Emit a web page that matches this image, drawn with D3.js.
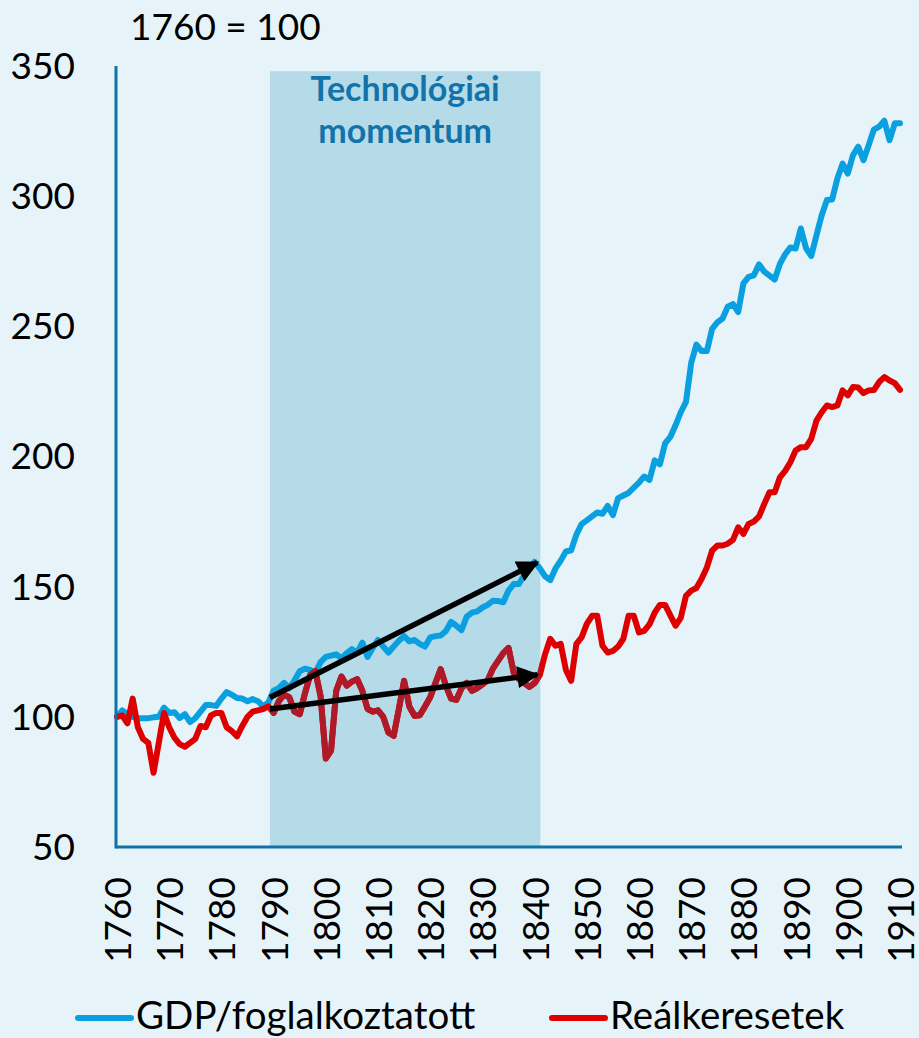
<!DOCTYPE html>
<html>
<head>
<meta charset="utf-8">
<script src="https://cdn.jsdelivr.net/npm/d3@7"></script>
<style>
  body { margin: 0; background: #e6f4fa; }
  svg text { font-family: Lato, "Liberation Sans", sans-serif; }
</style>
</head>
<body>
<script>
// index, 1760 = 100
var years = d3.range(1760, 1911);

var gdp = [
  100, 102.5, 101, 100, 99.5, 99.5, 99.5, 99.8, 100, 103.5,
  101.5, 101.8, 99.5, 101, 98, 99.5, 102, 104.5, 104.5, 104.2,
  107, 109.5, 108.5, 107.2, 107, 106, 106.8, 106, 104, 105.5,
  110, 111, 113, 111, 114, 117.5, 118.5, 118, 117, 121,
  123, 123.5, 124, 122.5, 124.5, 126, 124.7, 128.5, 123, 126.5,
  129.5, 127, 124.7, 127, 129.2, 131, 129, 129.5, 128, 127,
  130.5, 131, 131.2, 133, 136.5, 135, 133.3, 138.5, 140, 140.5,
  142, 143, 144.6, 144.5, 144, 148.5, 151, 151, 154.5, 157,
  159.5, 157, 154, 152.5, 157, 160, 163.5, 164, 170, 174,
  175.5, 177, 178.5, 178, 181, 177.5, 184, 185, 186, 188,
  190, 192.3, 191, 198.5, 197, 205, 207.5, 212, 217, 221,
  236, 243, 240.5, 240.5, 249, 251.5, 253, 257.5, 258.5, 255.5,
  266.5, 269, 269.6, 273.8, 271, 269.5, 268, 274, 277.7, 280.3,
  279.9, 287.6, 280, 277, 285, 292.7, 298.5, 298.7, 306.8, 312.5,
  308.7, 315.8, 319, 313.8, 319.6, 325.6, 326.7, 329, 321.5, 328, 328
];

var wages = [
  100, 100.5, 97.5, 107, 96, 91.5, 90, 78.5, 90, 101.5,
  96, 92, 89.5, 88.5, 90, 91.5, 96.5, 96, 100.5, 101.5,
  101.5, 96, 94.5, 92.5, 96.5, 100, 102, 102.5, 103, 104,
  101.5, 106, 108.5, 107.5, 102, 101, 109, 116, 117.5, 108,
  84, 87, 110, 115.5, 112, 113.5, 114.5, 110, 103, 102,
  102.5, 100, 94, 92.7, 103, 113.8, 104, 100.4, 100.6, 104,
  107.5, 113, 118.3, 112, 107, 106.5, 111, 113, 110, 111,
  112.5, 114, 118.5, 121.5, 124.5, 126.5, 117, 114.5, 113, 111.5,
  113, 116, 124, 130, 127.3, 128, 118, 113.8, 128, 130.5,
  135.7, 138.8, 138.8, 127.3, 124.7, 125.3, 127, 130, 138.8, 138.8,
  132.4, 133, 135.5, 140, 143, 143, 139, 135, 138, 146.5,
  148.5, 149.5, 153, 157.4, 163.8, 165.8, 165.8, 166.5, 168, 172.8,
  170.3, 174.1, 175, 177, 181.8, 186.3, 186.3, 192, 194.5, 197.8,
  202.3, 203.6, 203.6, 206.8, 213.8, 217, 219.6, 219, 219.6, 225.4,
  223.5, 226.7, 226.5, 224.3, 225.4, 225.5, 228.6, 230.5, 229.2, 228.2, 225.6
];

var xTicks = d3.range(1760, 1911, 10);
var yTicks = [50, 100, 150, 200, 250, 300, 350];

// shaded period and the two trend arrows
var shadeYears = [1789.3, 1841.1];
var shadeTop = 348;
var arrowsFrom = [[1789.3, 107.4], [1789.3, 103]];
var arrowsTo = [[1840.5, 159.3], [1840.5, 116.2]];

var width = 919, height = 1038;

var x = d3.scaleLinear().domain([1760, 1910]).range([117, 900]);
var y = d3.scaleLinear().domain([50, 350]).range([847, 66]);

var svg = d3.select("body").append("svg")
    .attr("width", width)
    .attr("height", height);

svg.append("rect")
    .attr("width", width).attr("height", height)
    .attr("fill", "#e6f4fa");

var defs = svg.append("defs");
defs.append("clipPath").attr("id", "shadeClip")
  .append("rect")
    .attr("x", x(shadeYears[0])).attr("y", 0)
    .attr("width", x(shadeYears[1]) - x(shadeYears[0]))
    .attr("height", height);

defs.append("marker")
    .attr("id", "head")
    .attr("viewBox", "0 0 10 10")
    .attr("refX", 9).attr("refY", 5)
    .attr("markerWidth", 5).attr("markerHeight", 4)
    .attr("markerUnits", "strokeWidth")
    .attr("orient", "auto")
  .append("path")
    .attr("d", "M0,0 L10,5 L0,10 z")
    .attr("fill", "#000");

svg.append("rect")
    .attr("x", x(shadeYears[0]))
    .attr("y", y(shadeTop))
    .attr("width", x(shadeYears[1]) - x(shadeYears[0]))
    .attr("height", y(50) - y(shadeTop))
    .attr("fill", "#b5dbe8");

var title = ["Technológiai", "momentum"];
svg.selectAll(".title")
    .data(title)
    .enter().append("text")
    .attr("class", "title")
    .attr("x", (x(shadeYears[0]) + x(shadeYears[1])) / 2)
    .attr("y", function(d, i) { return 101 + i * 42; })
    .attr("text-anchor", "middle")
    .attr("font-weight", "bold")
    .attr("font-size", 34)
    .attr("fill", "#1272aa")
    .text(function(d) { return d; });

var line = d3.line()
    .x(function(d, i) { return x(years[i]); })
    .y(function(d) { return y(d); });

svg.append("path")
    .datum(gdp)
    .attr("d", line)
    .attr("fill", "none")
    .attr("stroke", "#0aa0e0")
    .attr("stroke-width", 6)
    .attr("stroke-linejoin", "round")
    .attr("stroke-linecap", "round");

svg.append("path")
    .datum(wages)
    .attr("d", line)
    .attr("fill", "none")
    .attr("stroke", "#de0000")
    .attr("stroke-width", 6)
    .attr("stroke-linejoin", "round")
    .attr("stroke-linecap", "round");

// darker red where the line runs through the shaded years
svg.append("path")
    .datum(wages)
    .attr("d", line)
    .attr("clip-path", "url(#shadeClip)")
    .attr("fill", "none")
    .attr("stroke", "#ae1a27")
    .attr("stroke-width", 6)
    .attr("stroke-linejoin", "round");

svg.selectAll(".arrow")
    .data(arrowsFrom)
    .enter().append("line")
    .attr("class", "arrow")
    .attr("x1", function(d) { return x(d[0]); })
    .attr("y1", function(d) { return y(d[1]); })
    .attr("x2", function(d, i) { return x(arrowsTo[i][0]); })
    .attr("y2", function(d, i) { return y(arrowsTo[i][1]); })
    .attr("stroke", "#000")
    .attr("stroke-width", 5.5)
    .attr("marker-end", "url(#head)");

// axes
svg.append("line")
    .attr("x1", 116).attr("x2", 116)
    .attr("y1", y(350)).attr("y2", y(50) + 1.5)
    .attr("stroke", "#0f71a6").attr("stroke-width", 3);
svg.append("line")
    .attr("x1", 116).attr("x2", 902)
    .attr("y1", y(50)).attr("y2", y(50))
    .attr("stroke", "#0f71a6").attr("stroke-width", 3);

svg.selectAll(".ylab")
    .data(yTicks)
    .enter().append("text")
    .attr("class", "ylab")
    .attr("x", 75)
    .attr("y", function(d) { return y(d); })
    .attr("dy", "0.35em")
    .attr("text-anchor", "end")
    .attr("font-size", 37)
    .attr("fill", "#000")
    .text(function(d) { return d; });

svg.selectAll(".xlab")
    .data(xTicks)
    .enter().append("text")
    .attr("class", "xlab")
    .attr("transform", function(d) { return "translate(" + (x(d) + 1) + ",877) rotate(-90)"; })
    .attr("dy", "0.35em")
    .attr("text-anchor", "end")
    .attr("font-size", 37)
    .attr("fill", "#000")
    .text(function(d) { return d; });

svg.append("text")
    .attr("x", 130).attr("y", 40)
    .attr("font-size", 37)
    .attr("fill", "#000")
    .text("1760 = 100");

// legend
var legend = [
  {name: "GDP/foglalkoztatott", color: "#0aa0e0", x: 78},
  {name: "Reálkeresetek", color: "#de0000", x: 552}
];
var lg = svg.selectAll(".legend")
    .data(legend)
    .enter().append("g")
    .attr("class", "legend")
    .attr("transform", function(d) { return "translate(" + d.x + ",1018)"; });
lg.append("line")
    .attr("x1", 0).attr("x2", 53)
    .attr("stroke", function(d) { return d.color; })
    .attr("stroke-width", 6)
    .attr("stroke-linecap", "round");
lg.append("text")
    .attr("x", 58).attr("y", 11)
    .attr("font-size", 38.5)
    .attr("fill", "#000")
    .text(function(d) { return d.name; });
</script>
</body>
</html>
